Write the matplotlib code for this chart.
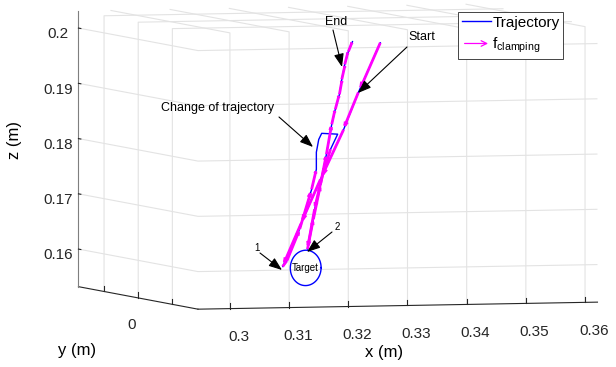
import numpy as np
import matplotlib
matplotlib.use('Agg')
import matplotlib.pyplot as plt
from matplotlib.legend_handler import HandlerBase
from matplotlib.patches import FancyArrowPatch
from matplotlib.lines import Line2D

plt.rcParams['font.family'] = ['Liberation Sans', 'DejaVu Sans']
plt.rcParams['mathtext.fontset'] = 'custom'
plt.rcParams['mathtext.rm'] = 'Liberation Sans'
plt.rcParams['mathtext.it'] = 'Liberation Sans'
plt.rcParams['grid.color'] = '#e3e3e3'
plt.rcParams['grid.linewidth'] = 0.8

# ---------------- data ----------------
traj_x = [0.3355, 0.3318, 0.3293, 0.3254, 0.3221, 0.3190, 0.3197, 0.3219, 0.3239,
          0.3247, 0.3247, 0.3251, 0.3256, 0.3283, 0.3271, 0.3258, 0.3244, 0.3232,
          0.3242, 0.3254, 0.3264, 0.3273, 0.3279, 0.3286, 0.3290, 0.3295, 0.3301, 0.3308]
traj_y = [0.0] * 28
traj_z = [0.1986, 0.1897, 0.1830, 0.1741, 0.1661, 0.1584, 0.1594, 0.1652, 0.1723,
          0.1759, 0.1790, 0.1813, 0.1824, 0.1822, 0.1795, 0.1750, 0.1687, 0.1615,
          0.1669, 0.1732, 0.1786, 0.1840, 0.1867, 0.1894, 0.1921, 0.1948, 0.1971, 0.1989]

f_x = [-0.0033, -0.0023, -0.0035, -0.0030, -0.0028, 0.0006, 0.0020, 0.0018, 0.0007,
       0.0, 0.0, 0.0, 0.0, 0.0, -0.0012, -0.0013, -0.0011, 0.0009,
       0.0011, 0.0009, 0.0008, 0.0005, 0.0006, 0.0004, 0.0005, 0.0005, 0.0006, 0.0]
f_y = [0.0] * 28
f_z = [-0.0080, -0.0060, -0.0080, -0.0072, -0.0069, 0.0009, 0.0052, 0.0064, 0.0032,
       0.0, 0.0, 0.0, 0.0, 0.0, -0.0040, -0.0057, -0.0065, 0.0049,
       0.0057, 0.0049, 0.0049, 0.0024, 0.0024, 0.0024, 0.0024, 0.0021, 0.0016, 0.0]

target_center = (0.3229, 0.0, 0.1581)
target_radius = (0.0026, 0.0032)

x_ticks = [0.30, 0.31, 0.32, 0.33, 0.34, 0.35, 0.36]
x_ticklabels = ['0.3', '0.31', '0.32', '0.33', '0.34', '0.35', '0.36']
y_ticks = [-0.01, 0.0, 0.01]
y_ticklabels = ['', '0', '']
z_ticks = [0.16, 0.17, 0.18, 0.19, 0.20]
z_ticklabels = ['0.16', '0.17', '0.18', '0.19', '0.2']
x_lim = (0.2946, 0.3621)
y_lim = (-0.0175, 0.0175)
z_lim = (0.1532, 0.2031)

# ---------------- figure ----------------
W, H = 616, 367
fig = plt.figure(figsize=(W / 100, H / 100), dpi=100)
ax = fig.add_axes([25 / W, 22 / H, 1.0, 1.0], projection='3d', proj_type='ortho')
ax.view_init(elev=-3.3, azim=-73)
ax.set_box_aspect((419, 410, 277), zoom=1.71)

ax.set_xlim(*x_lim)
ax.set_ylim(*y_lim)
ax.set_zlim(*z_lim)
ax.set_xticks(x_ticks)
ax.set_xticklabels(x_ticklabels)
ax.set_yticks(y_ticks)
ax.set_yticklabels([''] * len(y_ticks))
ax.set_zticks(z_ticks)
ax.set_zticklabels(z_ticklabels)

ax.xaxis.set_ticks_position('lower')
ax.yaxis.set_ticks_position('lower')
ax.zaxis.set_ticks_position('lower')

for axis in (ax.xaxis, ax.yaxis, ax.zaxis):
    axis.set_pane_color((1, 1, 1, 0))
    axis.pane.set_edgecolor('#e3e3e3')
    axis.line.set_color('#262626')
    axis.line.set_linewidth(0.8)
    axis._axinfo['tick']['inward_factor'] = 0.0
    axis._axinfo['tick']['outward_factor'] = 0.25
    axis.get_offset_text().set_visible(False)
    axis.label.set_visible(False)
ax.zaxis.line.set_color('#7f7f7f')
ax.tick_params(labelsize=11, colors='#262626', pad=2)
ax.zaxis.set_tick_params(pad=-2.5)

# y tick label (only the 0 tick is labelled), placed under its tick
for val, lab in zip(y_ticks, y_ticklabels):
    if lab:
        fig.text(132 / W, 1 - 325 / H, lab, fontsize=11, color='#262626',
                 ha='center', va='center')

# axis labels placed in figure pixels (MATLAB layout)
fig.text(14 / W, 1 - 140 / H, 'z (m)', fontsize=12, rotation=90, ha='center', va='center')
fig.text(77 / W, 1 - 351 / H, 'y (m)', fontsize=12, ha='center', va='center')
fig.text(384 / W, 1 - 353 / H, 'x (m)', fontsize=12, ha='center', va='center')

# trajectory
traj_line, = ax.plot(traj_x, traj_y, traj_z, color='#0000ff', lw=1.0)

# clamping force arrows
fx = np.array(f_x); fy = np.array(f_y); fz = np.array(f_z)
mask = (np.abs(fx) + np.abs(fz)) > 0
ax.quiver(np.array(traj_x)[mask], np.array(traj_y)[mask], np.array(traj_z)[mask],
          fx[mask], fy[mask], fz[mask], color='#ff00ff', lw=2.0,
          arrow_length_ratio=0.12, normalize=False)

# target circle
t = np.linspace(0, 2 * np.pi, 100)
ax.plot(target_center[0] + target_radius[0] * np.cos(t),
        np.full_like(t, target_center[1]),
        target_center[2] + target_radius[1] * np.sin(t), color='#0000ff', lw=1.0)
ax.text(target_center[0], target_center[1], target_center[2], 'Target',
        fontsize=7, ha='center', va='center', zorder=10)

def fp(x, y):
    return (x, H - y)

AP = dict(arrowstyle='-|>,head_length=0.8,head_width=0.3',
          color='black', lw=0.8, shrinkA=0, shrinkB=0)

def arrow(xy_from, xy_to):
    ax.annotate('', xy=fp(*xy_to), xycoords='figure pixels', xytext=fp(*xy_from),
                textcoords='figure pixels', arrowprops=AP)

fig.text(336 / W, 1 - 22 / H, 'End', fontsize=9, ha='center', va='center')
arrow((333, 30), (342, 67))
fig.text(422 / W, 1 - 37 / H, 'Start', fontsize=9, ha='center', va='center')
arrow((407, 47), (358, 93))
fig.text(218 / W, 1 - 108 / H, 'Change of trajectory', fontsize=9, ha='center', va='center')
arrow((279, 117), (313, 147))
fig.text(257 / W, 1 - 248 / H, '1', fontsize=7, ha='center', va='center')
arrow((260, 253), (282, 270))
fig.text(337 / W, 1 - 227 / H, '2', fontsize=7, ha='center', va='center')
arrow((332, 232), (307, 252))

# legend with arrow handle
class ArrowHandler(HandlerBase):
    def create_artists(self, legend, orig_handle, xdescent, ydescent,
                       width, height, fontsize, trans):
        a = FancyArrowPatch((-xdescent, height / 2 - ydescent),
                            (width - xdescent, height / 2 - ydescent),
                            arrowstyle='->,head_length=4,head_width=2',
                            color='#ff00ff', lw=0.9, transform=trans,
                            mutation_scale=1)
        return [a]

arrow_proxy = FancyArrowPatch((0, 0), (1, 1))
blue_proxy = Line2D([], [], color='#0000ff', lw=1.0)
leg = fig.legend([blue_proxy, arrow_proxy], ['Trajectory', r'f$_{\mathrm{clamping}}$'],
                 handler_map={FancyArrowPatch: ArrowHandler()},
                 loc='upper left', bbox_to_anchor=(458 / W, 1 - 12 / H),
                 fontsize=11, frameon=True, fancybox=False, edgecolor='#262626',
                 framealpha=1, borderpad=0.25, handlelength=1.9, handletextpad=0.1,
                 labelspacing=0.4, borderaxespad=0)
leg.get_frame().set_linewidth(0.6)

fig.savefig('out.png', dpi=100)
